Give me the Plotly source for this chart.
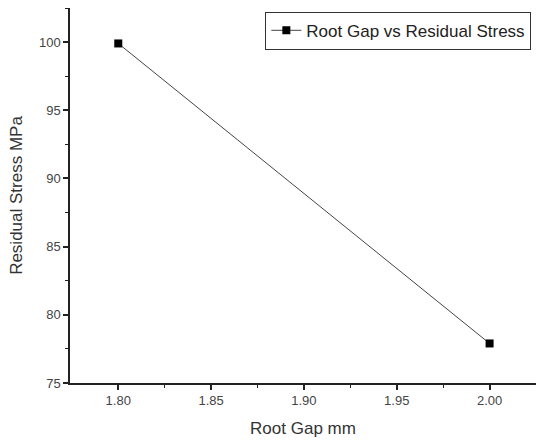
import plotly.graph_objects as go

root_gap = [1.80, 2.00]
residual_stress = [99.9, 77.9]
x_ticks = [1.80, 1.85, 1.90, 1.95, 2.00]
y_ticks = [75, 80, 85, 90, 95, 100]

fig = go.Figure()
fig.add_trace(go.Scatter(
    x=root_gap, y=residual_stress, mode="lines+markers",
    name="Root Gap vs Residual Stress",
    line=dict(color="#444444", width=1),
    marker=dict(symbol="square", size=8, color="black"),
))

axis_common = dict(
    showline=True, linecolor="#222222", linewidth=1.5,
    ticks="outside", ticklen=5, tickwidth=1.5, tickcolor="#222222",
    showgrid=False, zeroline=False, automargin=False,
    tickfont=dict(family="Liberation Sans, Arial", size=13, color="#444444"),
    title_font=dict(family="Liberation Sans, Arial", size=17, color="#333333"),
    minor=dict(ticks="outside", ticklen=3, tickwidth=1.2, tickcolor="#222222"),
)

fig.update_layout(
    width=536, height=445,
    margin=dict(l=70, r=0, t=8, b=62),
    plot_bgcolor="white", paper_bgcolor="white",
    showlegend=True,
    legend=dict(
        x=0.99, y=0.99, xanchor="right", yanchor="top",
        bordercolor="#333333", borderwidth=1, bgcolor="white",
        font=dict(family="Liberation Sans, Arial", size=17, color="#222222"),
        itemwidth=30,
    ),
    xaxis=dict(axis_common, range=[1.774, 2.025], tickvals=x_ticks,
               ticktext=["%.2f" % v for v in x_ticks], title=dict(text="Root Gap mm", standoff=15)),
    yaxis=dict(axis_common, range=[75, 102.5], tickvals=y_ticks,
               title=dict(text="Residual Stress MPa", standoff=12)),
)
fig.update_xaxes(minor=dict(tickvals=[1.825, 1.875, 1.925, 1.975, 2.025]))
fig.update_yaxes(minor=dict(tickvals=[77.5, 82.5, 87.5, 92.5, 97.5, 102.5]))

fig.write_html(
    "out.html",
    config={"displayModeBar": False},
    post_script="document.body.style.margin='0';document.body.style.overflow='hidden';",
)
